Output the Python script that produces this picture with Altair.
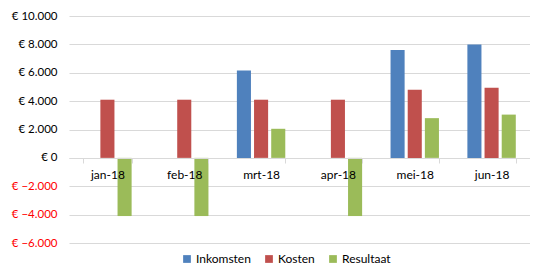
import altair as alt
import pandas as pd

months = ["jan-18", "feb-18", "mrt-18", "apr-18", "mei-18", "jun-18"]
series = ["Inkomsten", "Kosten", "Resultaat"]
inkomsten = [0, 0, 6150, 0, 7600, 8000]
kosten = [4100, 4100, 4100, 4100, 4800, 4950]
resultaat = [-4100, -4100, 2050, -4100, 2800, 3050]
colors = ["#4F81BD", "#C0504D", "#9BBB59"]
y_ticks = [-6000, -4000, -2000, 0, 2000, 4000, 6000, 8000, 10000]

rows = []
for name, vals in zip(series, [inkomsten, kosten, resultaat]):
    for m, v in zip(months, vals):
        rows.append({"maand": m, "reeks": name, "waarde": v})
df = pd.DataFrame(rows)

FONT = "Lato"

chart = alt.Chart(df).mark_bar().encode(
    x=alt.X("maand:N", sort=months,
            scale=alt.Scale(paddingInner=0.37, paddingOuter=0.185),
            axis=alt.Axis(title=None, labelAngle=0, offset=-85, domainColor="#d9d9d9",
                          tickColor="#d9d9d9", tickBand="extent", tickSize=5,
                          labelPadding=6, labelFontSize=12, labelFont=FONT,
                          labelColor="#000000", grid=False, zindex=1)),
    xOffset=alt.XOffset("reeks:N", sort=series, scale=alt.Scale(paddingInner=0.18)),
    y=alt.Y("waarde:Q", scale=alt.Scale(domain=[-6000, 10000], nice=False),
            axis=alt.Axis(title=None, values=y_ticks, domain=False, ticks=False,
                          gridColor="#d9d9d9", gridWidth=1, labelPadding=12,
                          labelFontSize=11.5, labelFont=FONT,
                          labelExpr="'€ ' + replace(format(datum.value, ',.0f'), ',', '.')",
                          labelColor=alt.ExprRef(expr="datum.value < 0 ? '#ff0000' : '#000000'"))),
    color=alt.Color("reeks:N", sort=series,
                    scale=alt.Scale(domain=series, range=colors),
                    legend=alt.Legend(title=None, orient="none", direction="horizontal",
                                      legendX=112, legendY=237, symbolType="square",
                                      symbolSize=60, symbolStrokeWidth=0,
                                      labelFontSize=12, labelFont=FONT, labelColor="#000000",
                                      labelOffset=3, columnPadding=12)),
).properties(
    width=461, height=227,
    padding={"left": 61, "top": 8, "right": 0, "bottom": 25},
    autosize="none",
).configure_view(stroke=None)

chart.save("out.html", embed_options={"renderer": "svg", "actions": False})
